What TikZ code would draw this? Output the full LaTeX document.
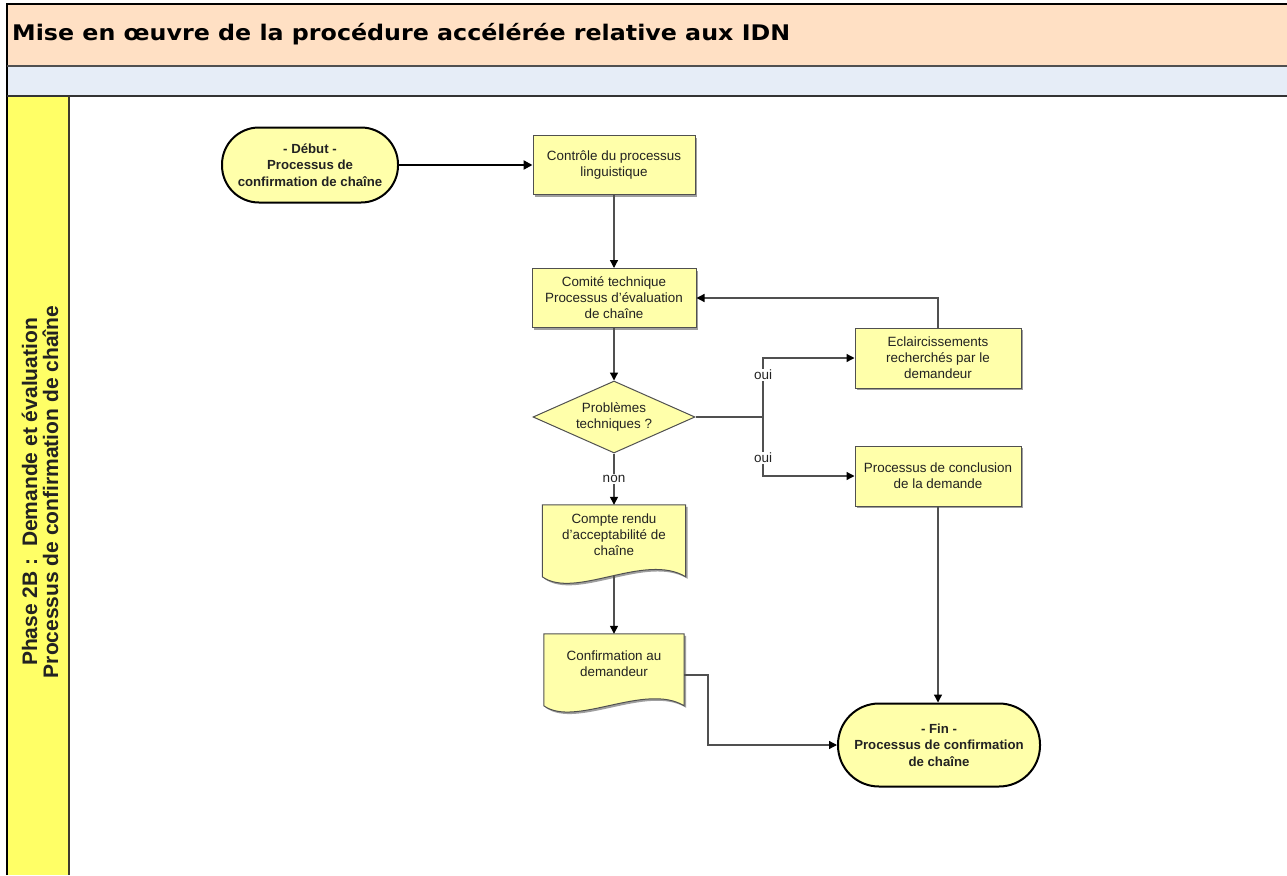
\documentclass[tikz,border=0pt]{standalone}
\usepackage{fontspec}
\setmainfont{Liberation Sans}
\newfontfamily\titlefont{DejaVu Sans}
\usetikzlibrary{arrows.meta,shapes.geometric,shadows}
\definecolor{peach}{HTML}{FFE0C4}
\definecolor{paleblue}{HTML}{E6EDF7}
\definecolor{laneyellow}{HTML}{FFFF66}
\definecolor{boxyellow}{HTML}{FFFFAA}
\definecolor{linegrey}{HTML}{505050}
\definecolor{txt}{HTML}{222222}
\begin{document}
\begin{tikzpicture}[x=1pt,y=-1pt,
  proc/.style={draw=linegrey, line width=1pt, fill=boxyellow, align=center,
    font=\fontsize{13.4}{16}\selectfont, text=txt, inner sep=2pt,
    drop shadow={shadow xshift=2pt,shadow yshift=-2pt,fill=gray!75,opacity=1}},
  term/.style={draw=black, line width=2pt, fill=boxyellow, align=center,
    font=\bfseries\fontsize{13.2}{16.5}\selectfont, text=txt, inner sep=2pt},
  doctext/.style={align=center, font=\fontsize{13.4}{16}\selectfont, text=txt,
    minimum width=141pt, inner sep=0pt},
  docshape/.style={draw=linegrey, line width=1pt, fill=boxyellow,
    drop shadow={shadow xshift=2pt,shadow yshift=-2pt,fill=gray!75,opacity=1}},
  flow/.style={draw=linegrey, line width=1.3pt, -{Triangle[length=8pt,width=8pt,color=black]}},
  plain/.style={draw=linegrey, line width=1.3pt},
  lbl/.style={fill=white, inner sep=1pt, font=\fontsize{13.5}{15}\selectfont, text=txt},
]
\useasboundingbox (0,0) rectangle (1287,875);
\fill[white] (0,0) rectangle (1287,875);
% header
\fill[peach] (7,4) rectangle (1287,66);
\fill[paleblue] (7,66) rectangle (1287,96);
\fill[laneyellow] (7,96) rectangle (69,875);
\draw[black, line width=1.5pt] (7,875) -- (7,4) -- (1287,4);
\draw[linegrey, line width=1.5pt] (7,66) -- (1287,66);
\draw[black!80, line width=2pt] (7,96) -- (1287,96);
\draw[black!75!olive, line width=1.5pt] (69,96) -- (69,875);
\node[anchor=base west, inner sep=0pt] (title) at (12,41)
  {\resizebox{778pt}{\height}{\titlefont\bfseries\fontsize{21.5}{24}\selectfont Mise en œuvre de la procédure accélérée relative aux IDN}};
\node[rotate=90, align=center, inner sep=0pt, font=\bfseries\fontsize{21}{21}\selectfont, text=txt] (lane) at (40,492)
  {Phase 2B :\ \ Demande et évaluation\\Processus de confirmation de chaîne};

% nodes
\node[term, minimum width=176pt, minimum height=75pt, rounded corners=37pt] (start) at (310,165)
  {- Début -\\Processus de\\confirmation de chaîne};
\node[proc, minimum width=162pt, minimum height=59pt] (ctrl) at (614,165)
  {Contrôle du processus\\linguistique};
\node[proc, minimum width=164pt, minimum height=59pt] (comite) at (614,298)
  {Comité technique\\Processus d’évaluation\\de chaîne};
\node[proc, minimum width=166pt, minimum height=60pt] (ecl) at (938,358)
  {Eclaircissements\\recherchés par le\\demandeur};
\node[diamond, draw=linegrey, line width=1pt, fill=boxyellow, aspect=2.25, inner sep=0pt,
  minimum width=162pt, minimum height=72pt, align=center,
  font=\fontsize{13.4}{16}\selectfont, text=txt] (diam) at (614,417)
  {Problèmes\\techniques ?};
\node[proc, minimum width=166pt, minimum height=60pt] (concl) at (938,476)
  {Processus de conclusion\\de la demande};
\node[term, minimum width=202pt, minimum height=83pt, rounded corners=41pt] (fin) at (939,745)
  {- Fin -\\Processus de confirmation\\de chaîne};

% document shapes
\node[doctext, minimum height=60pt, minimum width=143pt] (cr) at (614,535) {};
\draw[docshape] (cr.north west) -- (cr.north east) -- ++(0,72)
  .. controls (645,552) and (575,600) .. ([yshift=-72pt]cr.north west) -- cycle;
\node[doctext] at (cr) {Compte rendu\\d’acceptabilité de\\chaîne};
\node[doctext, minimum height=60pt, minimum width=140pt] (conf) at (614,664) {};
\draw[docshape] (conf.north west) -- (conf.north east) -- ++(0,72)
  .. controls (645,682) and (575,728) .. ([yshift=-72pt]conf.north west) -- cycle;
\node[doctext] at (conf) {Confirmation au\\demandeur};
\coordinate (crb) at (614,576);
\coordinate (split) at (763,417);
\coordinate (confturn) at (708,675);

% connectors
\draw[draw=black, line width=2.5pt, -{Triangle[length=9pt,width=9pt]}] (start.east) -- (ctrl.west);
\draw[flow] (ctrl.south) -- (comite.north);
\draw[flow] (comite.south) -- (diam.north);
\draw[plain] (diam.east) -- (split);
\draw[flow] (split) |- (ecl.west);
\draw[flow] (split) |- (concl.west);
\draw[flow] (ecl.north) |- (comite.east);
\draw[flow] (diam.south) -- (cr.north);
\draw[flow] (crb) -- (conf.north);
\draw[flow] ([yshift=-11pt]conf.east) -- (confturn) |- (fin.west);
\draw[flow] (concl.south) -- (concl.south |- fin.north);
\node[lbl] (oui1) at (763,375) {oui};
\node[lbl] (oui2) at (763,458) {oui};
\node[lbl] (non) at (614,479) {non};
\end{tikzpicture}
\end{document}
